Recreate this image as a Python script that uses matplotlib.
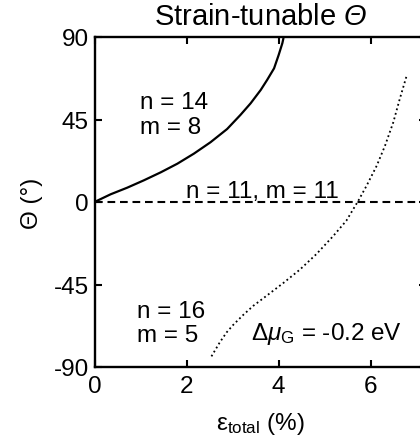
import matplotlib
matplotlib.use('Agg')
import matplotlib.pyplot as plt

plt.rcParams['font.family'] = ['Liberation Sans', 'DejaVu Sans']
plt.rcParams['mathtext.fontset'] = 'custom'
plt.rcParams['mathtext.rm'] = 'Liberation Sans'
plt.rcParams['mathtext.it'] = 'Liberation Sans:italic'
plt.rcParams['mathtext.sf'] = 'Liberation Sans:italic'  # used for italic capital Theta
plt.rcParams['axes.unicode_minus'] = False
plt.rcParams['font.size'] = 17.5

# n = 14, m = 8 (solid)
strain_14_8 = [0.0, 0.35, 0.71, 1.07, 1.44, 1.80, 2.16, 2.52, 2.88, 3.17,
               3.39, 3.61, 3.75, 3.90, 4.00, 4.08, 4.10]
theta_14_8 = [0.0, 4.2, 7.8, 11.8, 16.2, 20.9, 26.4, 32.6, 39.8, 47.5,
              53.8, 61.1, 66.6, 72.9, 80.2, 86.6, 88.9]

# n = 11, m = 11 (dashed)
strain_11_11 = [0.0, 8.0]
theta_11_11 = [0.0, 0.0]

# n = 16, m = 5 at dmu_G = -0.2 eV (dotted)
strain_16_5 = [2.54, 2.72, 2.87, 3.01, 3.23, 3.45, 3.74, 4.10, 4.46, 4.82,
               5.18, 5.47, 5.73, 5.91, 6.13, 6.31, 6.49, 6.63, 6.78]
theta_16_5 = [-84.2, -76.6, -71.1, -67.1, -61.6, -56.6, -51.1, -44.2, -36.9, -28.4,
              -18.7, -10.2, 0.7, 8.9, 19.8, 30.7, 43.5, 56.2, 68.9]

xticks = [0, 2, 4, 6]
yticks = [-90, -45, 0, 45, 90]

fig = plt.figure(figsize=(4.2, 4.39), dpi=100)
ax = fig.add_axes([94.5 / 420, 1 - 368 / 439, (426 - 94.5) / 420, 330 / 439])

ax.plot(strain_14_8, theta_14_8, color='black', lw=1.6)
ax.plot(strain_11_11, theta_11_11, color='black', lw=1.5, dashes=(3.7, 2.3))
ax.plot(strain_16_5, theta_16_5, color='black', lw=1.3, linestyle=(0, (1, 1.6)))

ax.set_xlim(0, 7.2)
ax.set_ylim(-90, 90)
ax.set_xticks(xticks)
ax.set_yticks(yticks)
ax.tick_params(direction='in', top=True, right=True, length=5, width=1.5)
ax.tick_params(axis='x', pad=6)
ax.tick_params(axis='y', pad=4)
for s in ax.spines.values():
    s.set_linewidth(1.7)

ax.set_title('Strain-tunable $\\mathsf{Θ}$', pad=9)
ax.set_xlabel('ε$_{\\mathrm{total}}$ (%)', labelpad=9)
ax.set_ylabel('Θ (°)', labelpad=8)

ax.text(0.99, 47.7, 'n = 14\nm = 8', va='center', ha='left', linespacing=1.15)
ax.text(1.99, 2.7, 'n = 11, m = 11', va='baseline', ha='left')
ax.text(0.92, -66, 'n = 16\nm = 5', va='center', ha='left', linespacing=1.15)
ax.text(3.40, -74.7, 'Δ$\\mathit{μ}_{\\mathrm{G}}$ = -0.2 eV', va='baseline', ha='left')

fig.savefig('out.png', dpi=100)
